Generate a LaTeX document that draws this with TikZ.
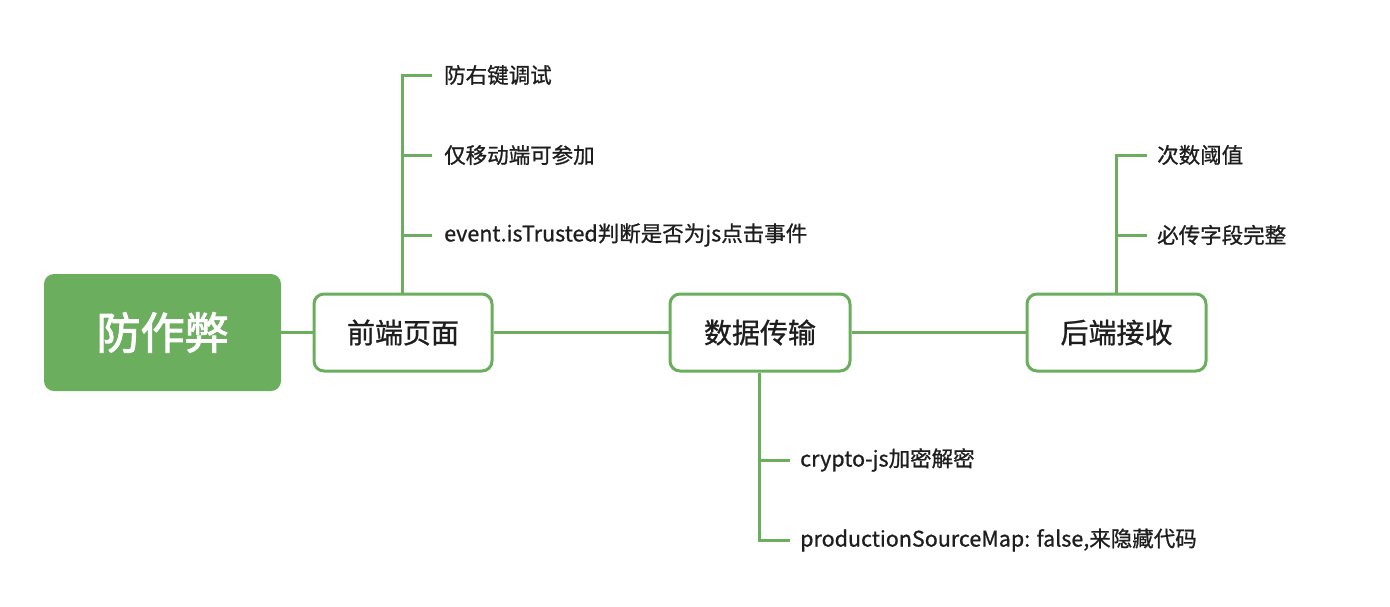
\documentclass[tikz,border=0pt]{standalone}
\usepackage{fontspec}
\setmainfont{Noto Sans CJK SC}
\newfontfamily\medfont{Noto Sans CJK SC}[FakeBold=0.9]
\newfontfamily\rootfont{Noto Sans CJK SC}[FakeBold=2.2]
\definecolor{mmgreen}{HTML}{6AAE5E}
\definecolor{mmtext}{HTML}{1E1E1E}
\tikzset{
  rootbox/.style={fill=mmgreen, draw=none, rounded corners=10pt, minimum width=237pt, minimum height=117pt, inner sep=0pt, text=white, font=\rootfont\fontsize{44pt}{48pt}\selectfont},
  topicbox/.style={fill=white, draw=mmgreen, line width=3pt, rounded corners=10pt, minimum height=77pt, inner sep=0pt, text=mmtext, font=\medfont\fontsize{28pt}{32pt}\selectfont},
  leaf/.style={anchor=west, inner sep=0pt, text=mmtext, font=\medfont\fontsize{21.5pt}{24pt}\selectfont},
  conn/.style={draw=mmgreen, line width=3pt},
}
\begin{document}
\begin{tikzpicture}[x=1pt,y=-1pt]
\useasboundingbox (0,0) rectangle (1390,606);
\node[rootbox] (root) at (162.5,332.5) {防作弊};
\node[topicbox, minimum width=178pt] (b1) at (403,332.5) {前端页面};
\node[topicbox, minimum width=180pt] (b2) at (760,332.5) {数据传输};
\node[topicbox, minimum width=179pt] (b3) at (1116.5,332.5) {后端接收};

\node[leaf] (a1) at (444,75) {防右键调试};
\node[leaf] (a2) at (444,155) {仅移动端可参加};
\node[leaf] (a3) at (444,235) {event.isTrusted判断是否为js点击事件};

\node[leaf] (c1) at (800,460) {crypto-js加密解密};
\node[leaf] (c2) at (800,540) {productionSourceMap: false,来隐藏代码};

\node[leaf] (d1) at (1157,155) {次数阈值};
\node[leaf] (d2) at (1157,235) {必传字段完整};

\draw[conn] (root.east) -- (b1.west);
\draw[conn] (b1.east) -- (b2.west);
\draw[conn] (b2.east) -- (b3.west);

\draw[conn] ([xshift=-1pt]b1.north) |- ([xshift=-12pt]a1.west);
\draw[conn] ([xshift=-1pt]b1.north) |- ([xshift=-12pt]a2.west);
\draw[conn] ([xshift=-1pt]b1.north) |- ([xshift=-12pt]a3.west);

\draw[conn] ([xshift=-1pt]b2.south) |- ([xshift=-10pt]c1.west);
\draw[conn] ([xshift=-1pt]b2.south) |- ([xshift=-10pt]c2.west);

\draw[conn] (b3.north) |- ([xshift=-10pt]d1.west);
\draw[conn] (b3.north) |- ([xshift=-10pt]d2.west);
\end{tikzpicture}
\end{document}
